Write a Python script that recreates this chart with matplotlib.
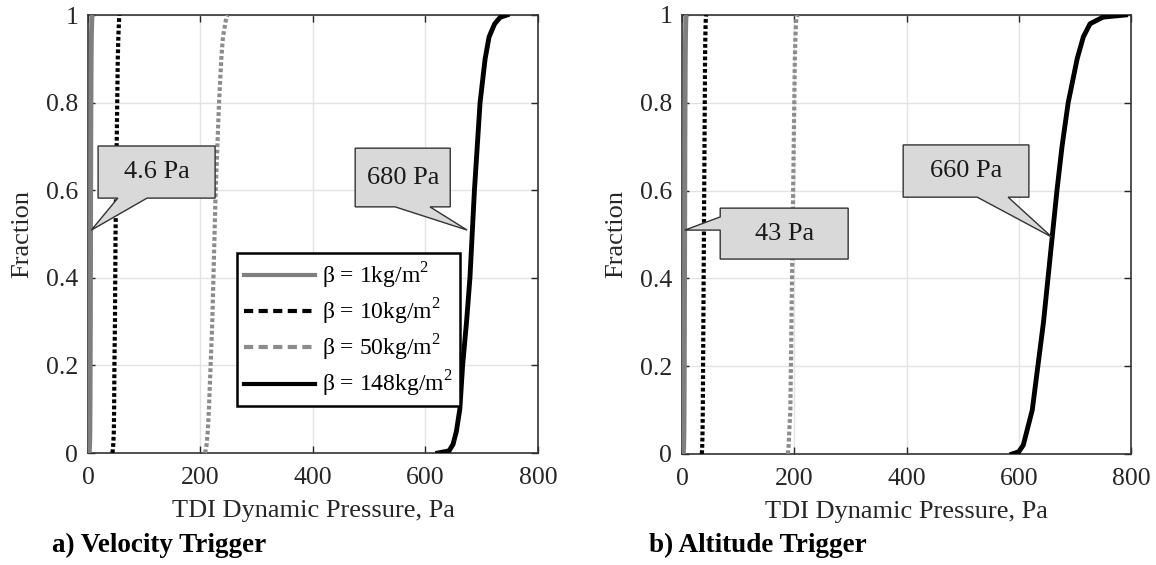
import matplotlib
matplotlib.use('Agg')
import matplotlib.pyplot as plt
from matplotlib.patches import Polygon
from matplotlib.lines import Line2D

plt.rcParams['font.family'] = ['Liberation Serif', 'DejaVu Serif']
plt.rcParams['mathtext.fontset'] = 'custom'
plt.rcParams['mathtext.rm'] = 'Liberation Serif'

# cumulative fraction levels shared by all curves
frac = [0, 0.005, 0.02, 0.05, 0.1, 0.2, 0.3, 0.4, 0.5, 0.6, 0.7, 0.8, 0.9, 0.95, 0.98, 0.995, 1.0]

# TDI dynamic pressure (Pa) at each fraction level -- velocity trigger
vel_b1 = [2.0, 2.5, 3.0, 3.4, 3.7, 4.0, 4.3, 4.5, 4.6, 4.8, 5.0, 5.3, 5.7, 6.1, 6.6, 7.0, 7.5]
vel_b10 = [43, 44, 45, 46, 46.5, 47, 48, 48.5, 49, 50, 51, 52, 53, 54, 55, 55.5, 56]
vel_b50 = [208, 209, 211, 213, 215, 218, 221, 223, 225, 227, 230, 233, 237, 240, 244, 246, 248]
vel_b148 = [622, 642, 649, 655, 661, 666, 673, 679, 683, 687, 692, 697, 706, 713, 723, 733, 745]

# altitude trigger
alt_b1 = [2.0, 2.5, 3.0, 3.4, 3.7, 4.0, 4.3, 4.5, 4.7, 4.9, 5.1, 5.4, 5.8, 6.2, 6.6, 7.0, 7.5]
alt_b10 = [35, 35.5, 36, 36.5, 37, 37.5, 38, 38.5, 39, 39.5, 40, 40.5, 41, 41.5, 42, 42.5, 43]
alt_b50 = [188, 189, 190, 191, 193, 194, 195, 196, 197, 198, 199, 200, 201, 202, 203, 204, 206]
alt_b148 = [588, 600, 608, 614, 624, 634, 644, 652, 660, 668, 677, 688, 704, 715, 727, 750, 790]

beta_labels = ['\u03b2 = 1kg/m$^2$', '\u03b2 = 10kg/m$^2$',
               '\u03b2 = 50kg/m$^2$', '\u03b2 = 148kg/m$^2$']
panel_titles = ['a) Velocity Trigger', 'b) Altitude Trigger']

# callouts: text, (box x0, x1, y0, y1), pointer tip, side of pointer, pointer base
vel_callouts = [
    ('4.6 Pa', (18, 226, 0.582, 0.701), (6, 0.509), 'bottom', (53, 105)),
    ('680 Pa', (475, 644, 0.562, 0.696), (674, 0.509), 'bottom', (546, 608)),
]
alt_callouts = [
    ('660 Pa', (394, 618, 0.585, 0.704), (659, 0.494), 'bottom', (526, 581)),
    ('43 Pa', (68, 296, 0.444, 0.560), (5, 0.510), 'left', (0.510, 0.540)),
]

GRAY1 = '#7f7f7f'
GRAY2 = '#8c8c8c'


def callout(ax, text, box, tip, side, base):
    x0, x1, y0, y1 = box
    if side == 'bottom':
        pts = [(x0, y1), (x1, y1), (x1, y0), (base[1], y0), tip, (base[0], y0), (x0, y0)]
    else:
        pts = [(x0, y1), (x1, y1), (x1, y0), (x0, y0), (x0, base[0]), tip, (x0, base[1])]
    ax.add_patch(Polygon(pts, closed=True, facecolor='#d9d9d9', edgecolor='#333333',
                         lw=1.0, zorder=5))
    ax.text((x0 + x1) / 2, (y0 + y1) / 2, text, ha='center', va='center',
            fontsize=19, zorder=6, color='#1a1a1a')


def draw_panel(ax, b1, b10, b50, b148, callouts):
    ax.plot(b1, frac, color=GRAY1, lw=3.5, solid_capstyle='butt', zorder=3)
    ax.plot(b10, frac, color='black', lw=3.0, ls=(0, (0.9, 0.6)), zorder=3)
    ax.plot(b50, frac, color=GRAY2, lw=3.0, ls=(0, (0.9, 0.6)), zorder=3)
    ax.plot(b148, frac, color='black', lw=3.5, zorder=3)
    ax.set_xlim(0, 800)
    ax.set_ylim(0, 1)
    ax.set_xticks([0, 200, 400, 600, 800])
    ax.set_yticks([0, 0.2, 0.4, 0.6, 0.8, 1])
    ax.set_yticklabels(['0', '0.2', '0.4', '0.6', '0.8', '1'])
    ax.grid(True, color='#e3e3e3', lw=1.0)
    ax.set_axisbelow(True)
    ax.tick_params(direction='in', length=5, width=1, top=True, right=True,
                   labelsize=18.5, colors='#262626')
    ax.tick_params(axis='x', pad=10)
    ax.tick_params(axis='y', pad=7)
    for s in ax.spines.values():
        s.set_color('#333333')
        s.set_linewidth(1.2)
    ax.set_xlabel('TDI Dynamic Pressure, Pa', fontsize=19, color='#262626', labelpad=8)
    ax.set_ylabel('Fraction', fontsize=19, color='#262626', labelpad=9)
    for c in callouts:
        callout(ax, *c)


fig = plt.figure(figsize=(11.56, 5.65), dpi=100)
ax1 = fig.add_axes([0.0761, 0.1982, 0.3893, 0.7752])
ax2 = fig.add_axes([0.5900, 0.1965, 0.3884, 0.7770])

draw_panel(ax1, vel_b1, vel_b10, vel_b50, vel_b148, vel_callouts)
draw_panel(ax2, alt_b1, alt_b10, alt_b50, alt_b148, alt_callouts)

handles = [
    Line2D([], [], color=GRAY1, lw=3),
    Line2D([], [], color='black', lw=3, ls=(0, (2.2, 1.3))),
    Line2D([], [], color=GRAY2, lw=3, ls=(0, (2.2, 1.3))),
    Line2D([], [], color='black', lw=3),
]
leg = ax1.legend(handles, beta_labels, loc='upper left', bbox_to_anchor=(0.331, 0.456),
                 fontsize=17, frameon=True, fancybox=False, framealpha=1,
                 handlelength=3.0, handletextpad=0.3, labelspacing=0.25,
                 borderpad=0.3, borderaxespad=0)
leg.get_frame().set_edgecolor('black')
leg.get_frame().set_linewidth(1.8)
leg.set_zorder(7)

fig.text(0.045, 0.034, panel_titles[0], fontsize=19.5, fontweight='bold', va='center')
fig.text(0.561, 0.034, panel_titles[1], fontsize=19.5, fontweight='bold', va='center')

fig.savefig('out.png', dpi=100)
